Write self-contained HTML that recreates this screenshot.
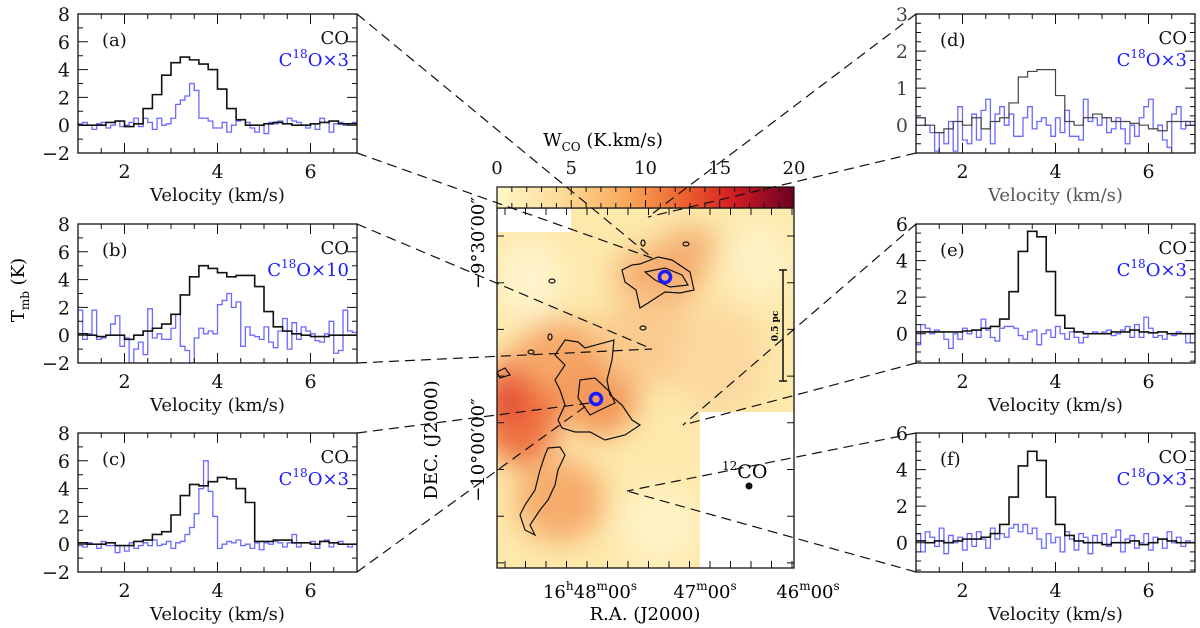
<!DOCTYPE html>
<html><head><meta charset="utf-8"><style>
html,body{margin:0;padding:0;background:#fff;}
svg{display:block;font-family:"DejaVu Serif","Liberation Serif",serif;}
</style></head><body>
<svg id="fig" width="1200" height="628" viewBox="0 0 1200 628" xmlns="http://www.w3.org/2000/svg">
<defs>
<linearGradient id="cbar" x1="0" x2="1" y1="0" y2="0">
<stop offset="0" stop-color="#fff7c8"/><stop offset="0.25" stop-color="#fdd690"/><stop offset="0.45" stop-color="#f8a456"/><stop offset="0.65" stop-color="#ec5a2c"/><stop offset="0.8" stop-color="#d01c24"/><stop offset="1" stop-color="#6a0022"/>
</linearGradient>
<clipPath id="mapclip"><rect x="497" y="208" width="297" height="360"/></clipPath>
<filter id="blur" x="-50%" y="-50%" width="200%" height="200%"><feGaussianBlur stdDeviation="14"/></filter>
</defs>

<g clip-path="url(#mapclip)">
<rect x="497" y="208" width="297" height="360" fill="#fde9ac"/>
<g filter="url(#blur)">
<ellipse cx="520" cy="410" rx="40" ry="55" fill="#ee7040"/>
<ellipse cx="508" cy="400" rx="16" ry="20" fill="#e04030"/>
<ellipse cx="560" cy="355" rx="45" ry="35" fill="#f6a868"/>
<ellipse cx="600" cy="395" rx="38" ry="42" fill="#f39858"/>
<ellipse cx="660" cy="275" rx="45" ry="28" fill="#f6ac70"/>
<ellipse cx="690" cy="245" rx="28" ry="18" fill="#f5ae72"/>
<ellipse cx="560" cy="500" rx="45" ry="42" fill="#f6ac6c"/>
<ellipse cx="650" cy="340" rx="55" ry="45" fill="#facb8e"/>
<ellipse cx="720" cy="360" rx="45" ry="55" fill="#fcd8a0"/>
<ellipse cx="530" cy="280" rx="32" ry="42" fill="#fff4cc"/>
<ellipse cx="660" cy="525" rx="40" ry="40" fill="#fff3c6"/>
<ellipse cx="760" cy="260" rx="30" ry="40" fill="#fef2c6"/>
</g>
<rect x="497" y="208" width="74" height="24" fill="#fff"/>
<rect x="700" y="412" width="94" height="156" fill="#fff"/>
<g fill="none" stroke="#111" stroke-width="1.2">
<path d="M632,265 L640,264 658,257 672,260 690,272 694,290 680,293 665,292 648,303 640,308 636,290 625,282 622,270 Z"/>
<path d="M645,272 L665,268 682,275 688,285 670,287 655,280 Z"/>
<path d="M565,340 L578,342 585,348 614,340 612,360 607,380 610,395 622,405 632,420 640,425 625,435 605,440 590,432 575,432 562,428 558,420 565,405 560,390 555,380 565,365 555,355 Z"/>
<path d="M580,380 L595,378 610,392 615,403 600,410 590,415 578,398 Z"/>
<path d="M548,448 L560,447 565,455 558,470 555,485 548,500 540,510 530,525 535,535 525,530 520,515 525,505 535,490 540,470 545,455 Z"/>
<path d="M497,372 L505,368 510,375 500,378 Z"/>
<ellipse cx="686" cy="244" rx="3" ry="2"/><ellipse cx="552" cy="281" rx="3" ry="2"/><ellipse cx="643" cy="243" rx="2" ry="3"/>
<ellipse cx="643" cy="328" rx="3" ry="2"/><ellipse cx="550" cy="337" rx="2" ry="3"/><ellipse cx="531" cy="352" rx="3" ry="2"/>
</g>
</g>
<rect x="497" y="208" width="297" height="360" fill="none" stroke="#111" stroke-width="1.3"/>
<g stroke="#111" stroke-width="1" id="maxticks"></g>
<circle cx="665" cy="277" r="5.5" fill="none" stroke="#1a1aff" stroke-width="3.5"/>
<circle cx="596" cy="399" r="5.5" fill="none" stroke="#1a1aff" stroke-width="3.5"/>
<g stroke="#111" stroke-width="1.5">
<line x1="783" y1="270" x2="783" y2="381"/><line x1="779" y1="270" x2="787" y2="270"/><line x1="779" y1="381" x2="787" y2="381"/>
</g>
<text x="0" y="0" transform="translate(778,326) rotate(-90)" font-size="9" font-weight="bold" text-anchor="middle">0.5 pc</text>
<text x="722" y="478" font-size="19"><tspan font-size="12" dy="-8">12</tspan><tspan dy="8">CO</tspan></text>
<circle cx="749" cy="486" r="3.5" fill="#111"/>

<rect x="497" y="187" width="297" height="21" fill="url(#cbar)" stroke="#111" stroke-width="1.2"/>
<g id="cbticks" stroke="#111" stroke-width="1"></g>
<g id="cblabels" font-size="18" text-anchor="middle" fill="#111"></g>
<text x="603" y="146" font-size="18" text-anchor="middle">W<tspan font-size="12" dy="5">CO</tspan><tspan dy="-5"> (K.km/s)</tspan></text>

<text transform="translate(484,243) rotate(-90)" font-size="18" text-anchor="middle">−9°30′00″</text>
<text transform="translate(484,450) rotate(-90)" font-size="18" text-anchor="middle">−10°00′00″</text>
<text transform="translate(437,440) rotate(-90)" font-size="18" text-anchor="middle">DEC. (J2000)</text>
<text x="590" y="598" font-size="18" text-anchor="middle">16<tspan font-size="12" dy="-8">h</tspan><tspan dy="8">48</tspan><tspan font-size="12" dy="-8">m</tspan><tspan dy="8">00</tspan><tspan font-size="12" dy="-8">s</tspan></text>
<text x="705" y="598" font-size="18" text-anchor="middle">47<tspan font-size="12" dy="-8">m</tspan><tspan dy="8">00</tspan><tspan font-size="12" dy="-8">s</tspan></text>
<text x="808" y="598" font-size="18" text-anchor="middle">46<tspan font-size="12" dy="-8">m</tspan><tspan dy="8">00</tspan><tspan font-size="12" dy="-8">s</tspan></text>
<text x="645" y="620" font-size="18" text-anchor="middle">R.A. (J2000)</text>

<text transform="translate(24,290) rotate(-90)" font-size="18" text-anchor="middle">T<tspan font-size="12" dy="5">mb</tspan><tspan dy="-5"> (K)</tspan></text>

<g id="panels"></g>
<g id="leaders" stroke="#111" stroke-width="1.2" stroke-dasharray="10,6" fill="none"></g>
</svg>
<script>
const coStart = 0.8;
const c18Start = 0.9;
const coStep = 0.2;
const c18Step = 0.1;
const panelLabels = ['(a)','(b)','(c)','(d)','(e)','(f)'];
const c18Factors = ['3','10','3','3','3','3'];
const yMins = [-2,-2,-2,-0.75,-1.6,-1.6];
const yMaxs = [8,8,8,3,6,6];
const yTickLabels = [[-2,0,2,4,6,8],[-2,0,2,4,6,8],[-2,0,2,4,6,8],[0,1,2,3],[0,2,4,6],[0,2,4,6]];
const xTickLabels = [2,4,6];
const cbTickLabels = [0,5,10,15,20];
const coA = [0.1,0,0,0,0.2,0.3,-0.1,0.1,1.2,2.2,3.6,4.5,4.9,4.7,4.4,4.0,2.6,1.2,0.4,0.0,0.0,0.1,0.2,0.1,0.0,0.0,0.1,0.2,0.3,0.1,0.1];
const coB = [0.1,0.1,0,-0.1,0,0,-0.3,0,0.3,0.5,0.8,1.5,2.9,4.2,5.0,4.8,4.5,4.2,4.3,4.3,3.5,1.7,0.6,0.3,0.1,0,-0.1,-0.1,0,0,0];
const coC = [0.1,0.1,0,0,0.1,-0.1,-0.1,0.2,0.3,0.7,0.9,2.1,3.5,4.3,4.2,4.5,4.8,4.7,4.0,3.0,0.2,0.2,0.3,0.3,0.1,0.1,0,0.2,0.1,0,0];
const coD = [0,0.2,0,-0.2,-0.1,0.1,0,0.2,-0.1,0.1,0.2,0.6,1.3,1.45,1.5,1.5,0.8,0.1,0,0.2,0.3,0.2,0.1,0.1,0.05,0,-0.1,-0.15,0.1,0.1,0.1];
const coE = [0.1,0.1,0.1,0.1,0.1,0.1,0.15,0.2,0.3,0.4,0.8,2.3,4.5,5.6,5.3,3.4,1.0,0.3,0.1,0,0,0,0.1,0.1,0.2,0.1,0.05,0.1,0,0,0];
const coF = [0,0.1,0,0.1,0,0.1,0.2,0.2,0.3,0.5,1.0,2.5,4.2,5.0,4.5,2.5,1.0,0.4,0.1,0,0,-0.1,0,0,0.1,-0.1,0,0.2,0.1,0,0];
const c18A = [0,0.1,0.2,0,-0.3,0.1,0.2,-0.2,0,0.3,-0.1,0,0.2,0.5,-0.1,0.5,0.2,-0.3,0.5,0,0.1,0.5,1.5,1.8,2.1,3.0,2.5,0.5,0.5,0.3,-0.2,-0.2,0.2,-0.5,0,0.3,0.4,0.2,-0.2,-0.5,0,-0.6,0.2,0.1,0.3,0.1,0.5,0.3,0.2,0,-0.2,0.1,-0.3,0.5,0.2,-0.5,0.1,0.2,0,0.1,0.2];
const c18B = [0.3,1.8,-0.3,0.1,1.8,-0.3,-0.2,0,0.8,1.4,-0.8,-0.2,-2.5,-1.0,-0.5,-1.4,1.9,-0.2,0.1,-0.3,-0.3,0.5,1.5,-0.8,-1.1,-2.5,-0.2,0.5,0.1,0.3,0.1,2.2,2.5,3.0,2.0,2.4,-0.8,0.6,0,-0.1,-0.3,0.6,-0.5,-0.9,0.3,1.2,-1.0,0.9,-0.3,0.6,0.3,0.1,-0.4,-0.5,0.1,1.0,-1.3,-1.1,1.8,0.3,0.2];
const c18C = [0.3,-0.1,-0.2,0.1,0,-0.3,0.2,-0.1,-0.1,-0.6,-0.1,-0.5,0.1,-0.3,-0.1,0.1,-0.1,0.3,-0.1,0,0.2,-0.3,0.1,0.2,0.7,1.2,2.2,4.0,6.0,3.8,2.0,-0.3,0,0.2,0.1,0.3,-0.1,0,-0.3,0.1,-0.4,0.1,0,0.2,0.1,-0.2,0.1,0.7,-0.2,0.1,0.1,0.2,-0.3,0.2,0.3,-0.2,0.1,0.2,0,-0.2,0];
const c18D = [-0.3,0.2,0.2,0,-0.2,-0.7,-0.2,-0.5,0.1,-0.7,0.5,-0.4,-0.5,0.3,-0.4,0.4,0.7,-0.5,0.3,0.5,0,0.3,-0.3,-0.3,0.2,0.5,-0.1,0.1,0.2,0,-0.3,0.2,-0.2,0.4,-0.3,-0.3,-0.4,0.7,0.1,0.2,0,0.2,-0.2,-0.1,0.2,-0.1,-0.5,0,-0.3,0.2,0.5,0.7,-0.1,0,-0.4,-0.6,0.3,0.5,-0.1,0.1,0];
const c18E = [0.2,-0.6,0.5,0.3,0,0.2,0.1,-0.3,-0.8,0,-0.3,0.3,0,0.2,-0.2,0.8,0.2,-0.2,-0.4,0.3,0.4,0.4,0.3,-0.1,-0.3,0.1,0.2,-0.6,0,0.2,-0.2,0.4,0,-0.3,0.1,-0.2,-0.5,-0.2,0,0.1,0,0.1,0.2,-0.1,0,0.2,0.4,-0.2,0.5,-0.2,0.9,0.3,-0.2,-0.1,-0.3,0,-0.1,0.1,0,-0.5,0];
const c18F = [0.2,0.5,-0.5,0.6,0.3,-0.2,0.8,-0.6,0.4,0,0.3,-0.4,0.5,-0.2,0.6,0.2,-0.3,0.8,0.2,0.5,0.3,0.8,1.0,0.6,1.0,0.5,0.8,0.2,-0.3,0.5,0,0.3,-0.5,0.6,0.2,-0.4,0.5,0.3,-0.6,0.4,0,0.5,-0.2,0.3,0.7,-0.5,0.2,0.4,-0.3,0,0.5,-0.4,0.3,0.2,-0.3,0.6,0,0.3,-0.2,0.1,0];
const coSeries=[coA,coB,coC,coD,coE,coF];
const c18Series=[c18A,c18B,c18C,c18D,c18E,c18F];

const NS='http://www.w3.org/2000/svg';
function mk(tag,attrs,parent){const e=document.createElementNS(NS,tag);for(const k in attrs)e.setAttribute(k,attrs[k]);parent.appendChild(e);return e;}
const panelsG=document.getElementById('panels');
const boxes=[[78,14],[78,224],[78,433],[916,14],[916,224],[916,433]];
const W=279,H=139,XMIN=1,XMAX=7;
boxes.forEach((b,i)=>{
  const [x0,y0]=b;
  const g=mk('g',{},panelsG);
  
  
  const ymin=yMins[i],ymax=yMaxs[i];
  const sx=v=>x0+(v-XMIN)/(XMAX-XMIN)*W;
  const sy=v=>y0+H-(Math.max(ymin,Math.min(ymax,v))-ymin)/(ymax-ymin)*H;
  const cp=mk('clipPath',{id:'cp'+i},g);mk('rect',{x:x0,y:y0,width:W,height:H},cp);
  function steps(arr,start,step){let d='';arr.forEach((v,k)=>{const a=sx(start+k*step),bb=sx(start+(k+1)*step),y=sy(v);d+=(k===0?'M':'L')+a+','+y+' L'+bb+','+y+' ';});return d;}
  const blue=mk('path',{d:steps(c18Series[i],c18Start,c18Step),fill:'none',stroke:'#6a6aff','stroke-width':1.3,'clip-path':'url(#cp'+i+')'},g);
  
  
  const blk=mk('path',{d:steps(coSeries[i],coStart,coStep),fill:'none',stroke:i===3?'#444':'#111','stroke-width':i===3?1.2:1.6,'clip-path':'url(#cp'+i+')'},g);
  
  
  mk('rect',{x:x0,y:y0,width:W,height:H,fill:'none',stroke:'#111','stroke-width':1.3},g);
  let tk='';
  for(let v=1;v<=7.001;v+=0.5){const x=sx(v);const L=(Math.abs(v-Math.round(v/2)*2)<0.01)?10:5;tk+=`M${x},${y0+H}v${-L}M${x},${y0}v${L}`;}
  const major=i===3?1:2, minor=i===3?0.25:(i>=4?0.5:1);
  for(let v=Math.ceil(ymin/minor)*minor;v<=ymax+1e-6;v+=minor){const y=sy(v);const isM=Math.abs(v/major-Math.round(v/major))<0.01;const L=isM?10:5;tk+=`M${x0},${y}h${L}M${x0+W},${y}h${-L}`;}
  mk('path',{d:tk,stroke:'#111','stroke-width':1,fill:'none'},g);
  yTickLabels[i].forEach(v=>{const t=mk('text',{x:x0-8,y:sy(v)+7,'font-size':19,'text-anchor':'end',fill:i===3?'#444':'#111'},g);t.textContent=v<0?'−'+(-v):String(v);
    
    });
  xTickLabels.forEach(v=>{const t=mk('text',{x:sx(v),y:y0+H+25,'font-size':19,'text-anchor':'middle',fill:'#111'},g);t.textContent=v;
    
    });
  const xt=mk('text',{x:x0+W/2,y:y0+H+48,'font-size':18,'text-anchor':'middle',fill:i===3?'#555':'#111'},g);xt.textContent='Velocity (km/s)';
  
  
  const pl=mk('text',{x:x0+24,y:y0+32,'font-size':18,fill:'#111'},g);pl.textContent=panelLabels[i];
  
  
  const l1=mk('text',{x:x0+W-8,y:y0+30,'font-size':18,'text-anchor':'end',fill:'#111'},g);l1.textContent='CO';
  
  
  const l2=mk('text',{x:x0+W-8,y:y0+52,'font-size':18,'text-anchor':'end',fill:'#1a1aff'},g);
  l2.innerHTML='C<tspan font-size="12" dy="-8">18</tspan><tspan dy="8">O×'+c18Factors[i]+'</tspan>';
  
  
});
const cbg=document.getElementById('cbticks');let cd='';
for(let v=0;v<=20;v+=1){const x=497+v/20*297;cd+=`M${x},187v${v%5===0?8:5}M${x},208v${v%5===0?-8:-5}`;}
mk('path',{d:cd,fill:'none'},cbg);
const cbl=document.getElementById('cblabels');
cbTickLabels.forEach(v=>{const t=mk('text',{x:497+v/20*297,y:174},cbl);t.textContent=v;
  
  });
const mt=document.getElementById('maxticks');let md='';
for(let k=0;k<15;k++){const x=505+k*20.5;md+=`M${x},568v-7M${x},208v7`;}
for(let k=0;k<8;k++){const y=236+k*46.7;md+=`M497,${y}h7M794,${y}h-7`;}
mk('path',{d:md,fill:'none'},mt);
const leaders=[[357,14,650,256],[357,153,652,258],[357,224,652,349],[357,363,652,349],[357,433,590,403],[357,572,590,403],[916,14,648,217],[916,153,648,217],[916,224,683,425],[916,363,683,425],[916,433,627,491],[916,572,627,491]];
const lg=document.getElementById('leaders');
leaders.forEach(l=>{const e=mk('line',{x1:l[0],y1:l[1],x2:l[2],y2:l[3]},lg);
  
  });
</script>
</body></html>
